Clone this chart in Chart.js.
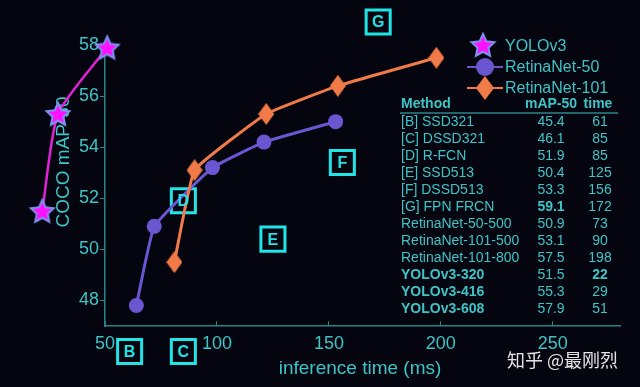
<!DOCTYPE html>
<html>
<head>
<meta charset="utf-8">
<script src="https://cdn.jsdelivr.net/npm/chart.js@4.4.1/dist/chart.umd.min.js"></script>
<style>
  html, body { margin: 0; background: #05050f; }
  #wrap { width: 640px; height: 387px; }
</style>
</head>
<body>
<div id="wrap"><canvas id="chart"></canvas></div>
<script>
// series (time in ms, COCO mAP-50)
// YOLOv3 is listed right to left: unsorted data keeps Chart.js from
// dropping the points that sit left of the axis
const yoloTime = [51, 29, 22];
const yoloMap = [57.9, 55.3, 51.5];
const r50Time = [64, 72, 98, 121, 153];
const r50Map = [47.8, 50.9, 53.2, 54.2, 55.0];
const r101Time = [81, 90, 122, 154, 198];
const r101Map = [49.5, 53.1, 55.3, 56.4, 57.5];

// other methods, drawn as lettered boxes
const otherLetters = ['B', 'C', 'D', 'E', 'F', 'G'];
const otherTime = [61, 85, 85, 125, 156, 172];
const otherMap = [46.0, 46.0, 51.9, 50.4, 53.4, 58.9];

const xTicks = [50, 100, 150, 200, 250];
const yTicks = [48, 50, 52, 54, 56, 58];

// table on the right
const tableMethods = ['[B] SSD321', '[C] DSSD321', '[D] R-FCN', '[E] SSD513', '[F] DSSD513', '[G] FPN FRCN',
  'RetinaNet-50-500', 'RetinaNet-101-500', 'RetinaNet-101-800', 'YOLOv3-320', 'YOLOv3-416', 'YOLOv3-608'];
const tableMap = ['45.4', '46.1', '51.9', '50.4', '53.3', '59.1', '50.9', '53.1', '57.5', '51.5', '55.3', '57.9'];
const tableTime = ['61', '85', '85', '125', '156', '172', '73', '90', '198', '22', '29', '51'];
const boldMethod = [false, false, false, false, false, false, false, false, false, true, true, true];
const boldMap = [false, false, false, false, false, true, false, false, false, false, false, false];
const boldTime = [false, false, false, false, false, false, false, false, false, true, false, false];

const teal = '#3ec4c6';
const cyan = '#22e4e6';
const axisColor = '#2b8284';
const magenta = '#e022d8';
const purple = '#6b56d2';
const orange = '#f07a48';
const FONT = '"Liberation Sans", Arial, sans-serif';

// marker images
function makeStar(r) {
    const c = document.createElement('canvas');
    c.width = c.height = r * 2 + 4;
    const g = c.getContext('2d');
    const cx = r + 2, cy = r + 2 + 1;
    g.beginPath();
    for (let i = 0; i < 10; i++) {
        const rad = i % 2 === 0 ? r : r * 0.48;
        const a = -Math.PI / 2 + i * Math.PI / 5;
        g.lineTo(cx + rad * Math.cos(a), cy + rad * Math.sin(a));
    }
    g.closePath();
    g.fillStyle = '#ff10ff';
    g.fill();
    g.strokeStyle = '#7c92ec';
    g.lineWidth = 2;
    g.stroke();
    return c;
}

function makeDiamond(w, h) {
    const c = document.createElement('canvas');
    c.width = w;
    c.height = h;
    const g = c.getContext('2d');
    g.beginPath();
    g.moveTo(w / 2, 0);
    g.lineTo(w, h / 2);
    g.lineTo(w / 2, h);
    g.lineTo(0, h / 2);
    g.closePath();
    g.fillStyle = orange;
    g.fill();
    return c;
}

const starImg = makeStar(12);
const starLegend = makeStar(12);
const diamondImg = makeDiamond(16, 22);
const diamondLegend = makeDiamond(18, 24);

function toPoints(xs, ys) {
    return xs.map((x, i) => ({ x: x, y: ys[i] }));
}

// marks that sit outside the axes must still be drawn:
// widen the area while the datasets draw, then put it back
let savedArea = null;
const wideArea = {
    id: 'wideArea',
    beforeDatasetsDraw(chart) {
        savedArea = chart.chartArea;
        chart.chartArea = { left: 0, top: 0, right: chart.width, bottom: chart.height,
            width: chart.width, height: chart.height };
    },
    afterDatasetsDraw(chart) {
        if (savedArea) chart.chartArea = savedArea;
    }
};

// texts drawn under the data (axis titles)
const underText = {
    id: 'underText',
    beforeDatasetsDraw(chart) {
        const ctx = chart.ctx;
        ctx.save();
        ctx.fillStyle = teal;
        ctx.font = '19px ' + FONT;
        ctx.textAlign = 'center';
        ctx.textBaseline = 'middle';
        ctx.fillText('inference time (ms)', 360, 369);
        ctx.translate(63.5, 162);
        ctx.rotate(-Math.PI / 2);
        ctx.fillText('COCO mAP-50', 0, 0);
        ctx.restore();
    }
};

// box letters, legend, table, watermark
const overlay = {
    id: 'overlay',
    afterDatasetsDraw(chart) {
        const ctx = chart.ctx;
        ctx.save();

        // letters inside boxes
        const meta = chart.getDatasetMeta(3);
        ctx.fillStyle = cyan;
        ctx.font = 'bold 16px ' + FONT;
        ctx.textAlign = 'center';
        ctx.textBaseline = 'middle';
        meta.data.forEach((pt, i) => {
            ctx.fillText(otherLetters[i], pt.x, pt.y + 1);
        });

        // legend
        ctx.textAlign = 'left';
        ctx.font = '16px ' + FONT;
        ctx.fillStyle = teal;
        ctx.drawImage(starLegend, 483 - starLegend.width / 2, 45 - starLegend.height / 2);
        ctx.fillText('YOLOv3', 505, 47);

        ctx.strokeStyle = purple;
        ctx.lineWidth = 2;
        ctx.beginPath();
        ctx.moveTo(467, 67);
        ctx.lineTo(503, 67);
        ctx.stroke();
        ctx.fillStyle = purple;
        ctx.beginPath();
        ctx.arc(485, 67, 9, 0, Math.PI * 2);
        ctx.fill();
        ctx.fillStyle = teal;
        ctx.fillText('RetinaNet-50', 505, 68);

        ctx.strokeStyle = orange;
        ctx.beginPath();
        ctx.moveTo(467, 88);
        ctx.lineTo(503, 88);
        ctx.stroke();
        ctx.drawImage(diamondLegend, 485 - diamondLegend.width / 2, 88 - diamondLegend.height / 2);
        ctx.fillStyle = teal;
        ctx.fillText('RetinaNet-101', 505, 89);

        // table
        ctx.font = 'bold 14px ' + FONT;
        ctx.fillStyle = teal;
        ctx.textAlign = 'left';
        ctx.fillText('Method', 401, 104);
        ctx.textAlign = 'center';
        ctx.fillText('mAP-50', 551, 104);
        ctx.fillText('time', 598, 104);
        ctx.strokeStyle = teal;
        ctx.lineWidth = 1.2;
        ctx.beginPath();
        ctx.moveTo(400, 113);
        ctx.lineTo(618, 113);
        ctx.stroke();

        tableMethods.forEach((m, i) => {
            const y = 122 + i * 17;
            ctx.textAlign = 'left';
            ctx.font = (boldMethod[i] ? 'bold ' : '') + '14px ' + FONT;
            ctx.fillText(m, 401, y);
            ctx.textAlign = 'center';
            ctx.font = (boldMap[i] ? 'bold ' : '') + '14px ' + FONT;
            ctx.fillText(tableMap[i], 551, y);
            ctx.font = (boldTime[i] ? 'bold ' : '') + '14px ' + FONT;
            ctx.fillText(tableTime[i], 600, y);
        });

        // watermark
        ctx.textAlign = 'left';
        ctx.fillStyle = '#e4e4e4';
        ctx.font = '18px "Noto Sans CJK SC", sans-serif';
        ctx.fillText('知乎 @最刚烈', 507, 360);

        ctx.restore();
    }
};

const ctx = document.getElementById('chart').getContext('2d');

new Chart(ctx, {
    type: 'scatter',
    data: {
        datasets: [
            {
                label: 'YOLOv3',
                data: toPoints(yoloTime, yoloMap),
                showLine: true,
                borderColor: magenta,
                borderWidth: 2.5,
                tension: 0.2,
                capBezierPoints: false,
                pointStyle: starImg,
                pointRadius: 12,
                clip: false,
                order: 0
            },
            {
                label: 'RetinaNet-50',
                data: toPoints(r50Time, r50Map),
                showLine: true,
                borderColor: purple,
                borderWidth: 3,
                tension: 0.1,
                pointStyle: 'circle',
                pointRadius: 7.5,
                pointBackgroundColor: purple,
                pointBorderWidth: 0,
                clip: false,
                order: 2
            },
            {
                label: 'RetinaNet-101',
                data: toPoints(r101Time, r101Map),
                showLine: true,
                borderColor: orange,
                borderWidth: 3,
                tension: 0.1,
                pointStyle: diamondImg,
                pointRadius: 10,
                clip: false,
                order: 1
            },
            {
                label: 'Others',
                data: toPoints(otherTime, otherMap),
                showLine: false,
                pointStyle: 'rect',
                pointRadius: 17,
                pointBorderWidth: 3,
                pointBorderColor: cyan,
                pointBackgroundColor: 'rgba(5,5,15,0.9)',
                clip: false,
                order: 3
            }
        ]
    },
    options: {
        responsive: true,
        maintainAspectRatio: false,
        animation: false,
        layout: { padding: { top: 45, right: 19, left: 0, bottom: 0 } },
        scales: {
            x: {
                type: 'linear',
                min: 50,
                max: 280,
                afterBuildTicks: (s) => { s.ticks = xTicks.map(v => ({ value: v })); },
                afterFit: (s) => { s.height = 61; },
                grid: { drawOnChartArea: false, tickLength: -5, color: axisColor },
                border: { color: axisColor, width: 1.5 },
                ticks: { color: teal, font: { size: 18, family: FONT }, padding: 12, maxRotation: 0 }
            },
            y: {
                min: 47,
                max: 58,
                afterBuildTicks: (s) => { s.ticks = yTicks.map(v => ({ value: v })); },
                afterFit: (s) => { s.width = 105; },
                grid: { drawOnChartArea: false, tickLength: 5, color: axisColor },
                border: { color: axisColor, width: 1.5 },
                ticks: { color: teal, font: { size: 18, family: FONT }, padding: 1 }
            }
        },
        plugins: {
            legend: { display: false },
            tooltip: { enabled: false }
        }
    },
    plugins: [underText, wideArea, overlay]
});
</script>
</body>
</html>
